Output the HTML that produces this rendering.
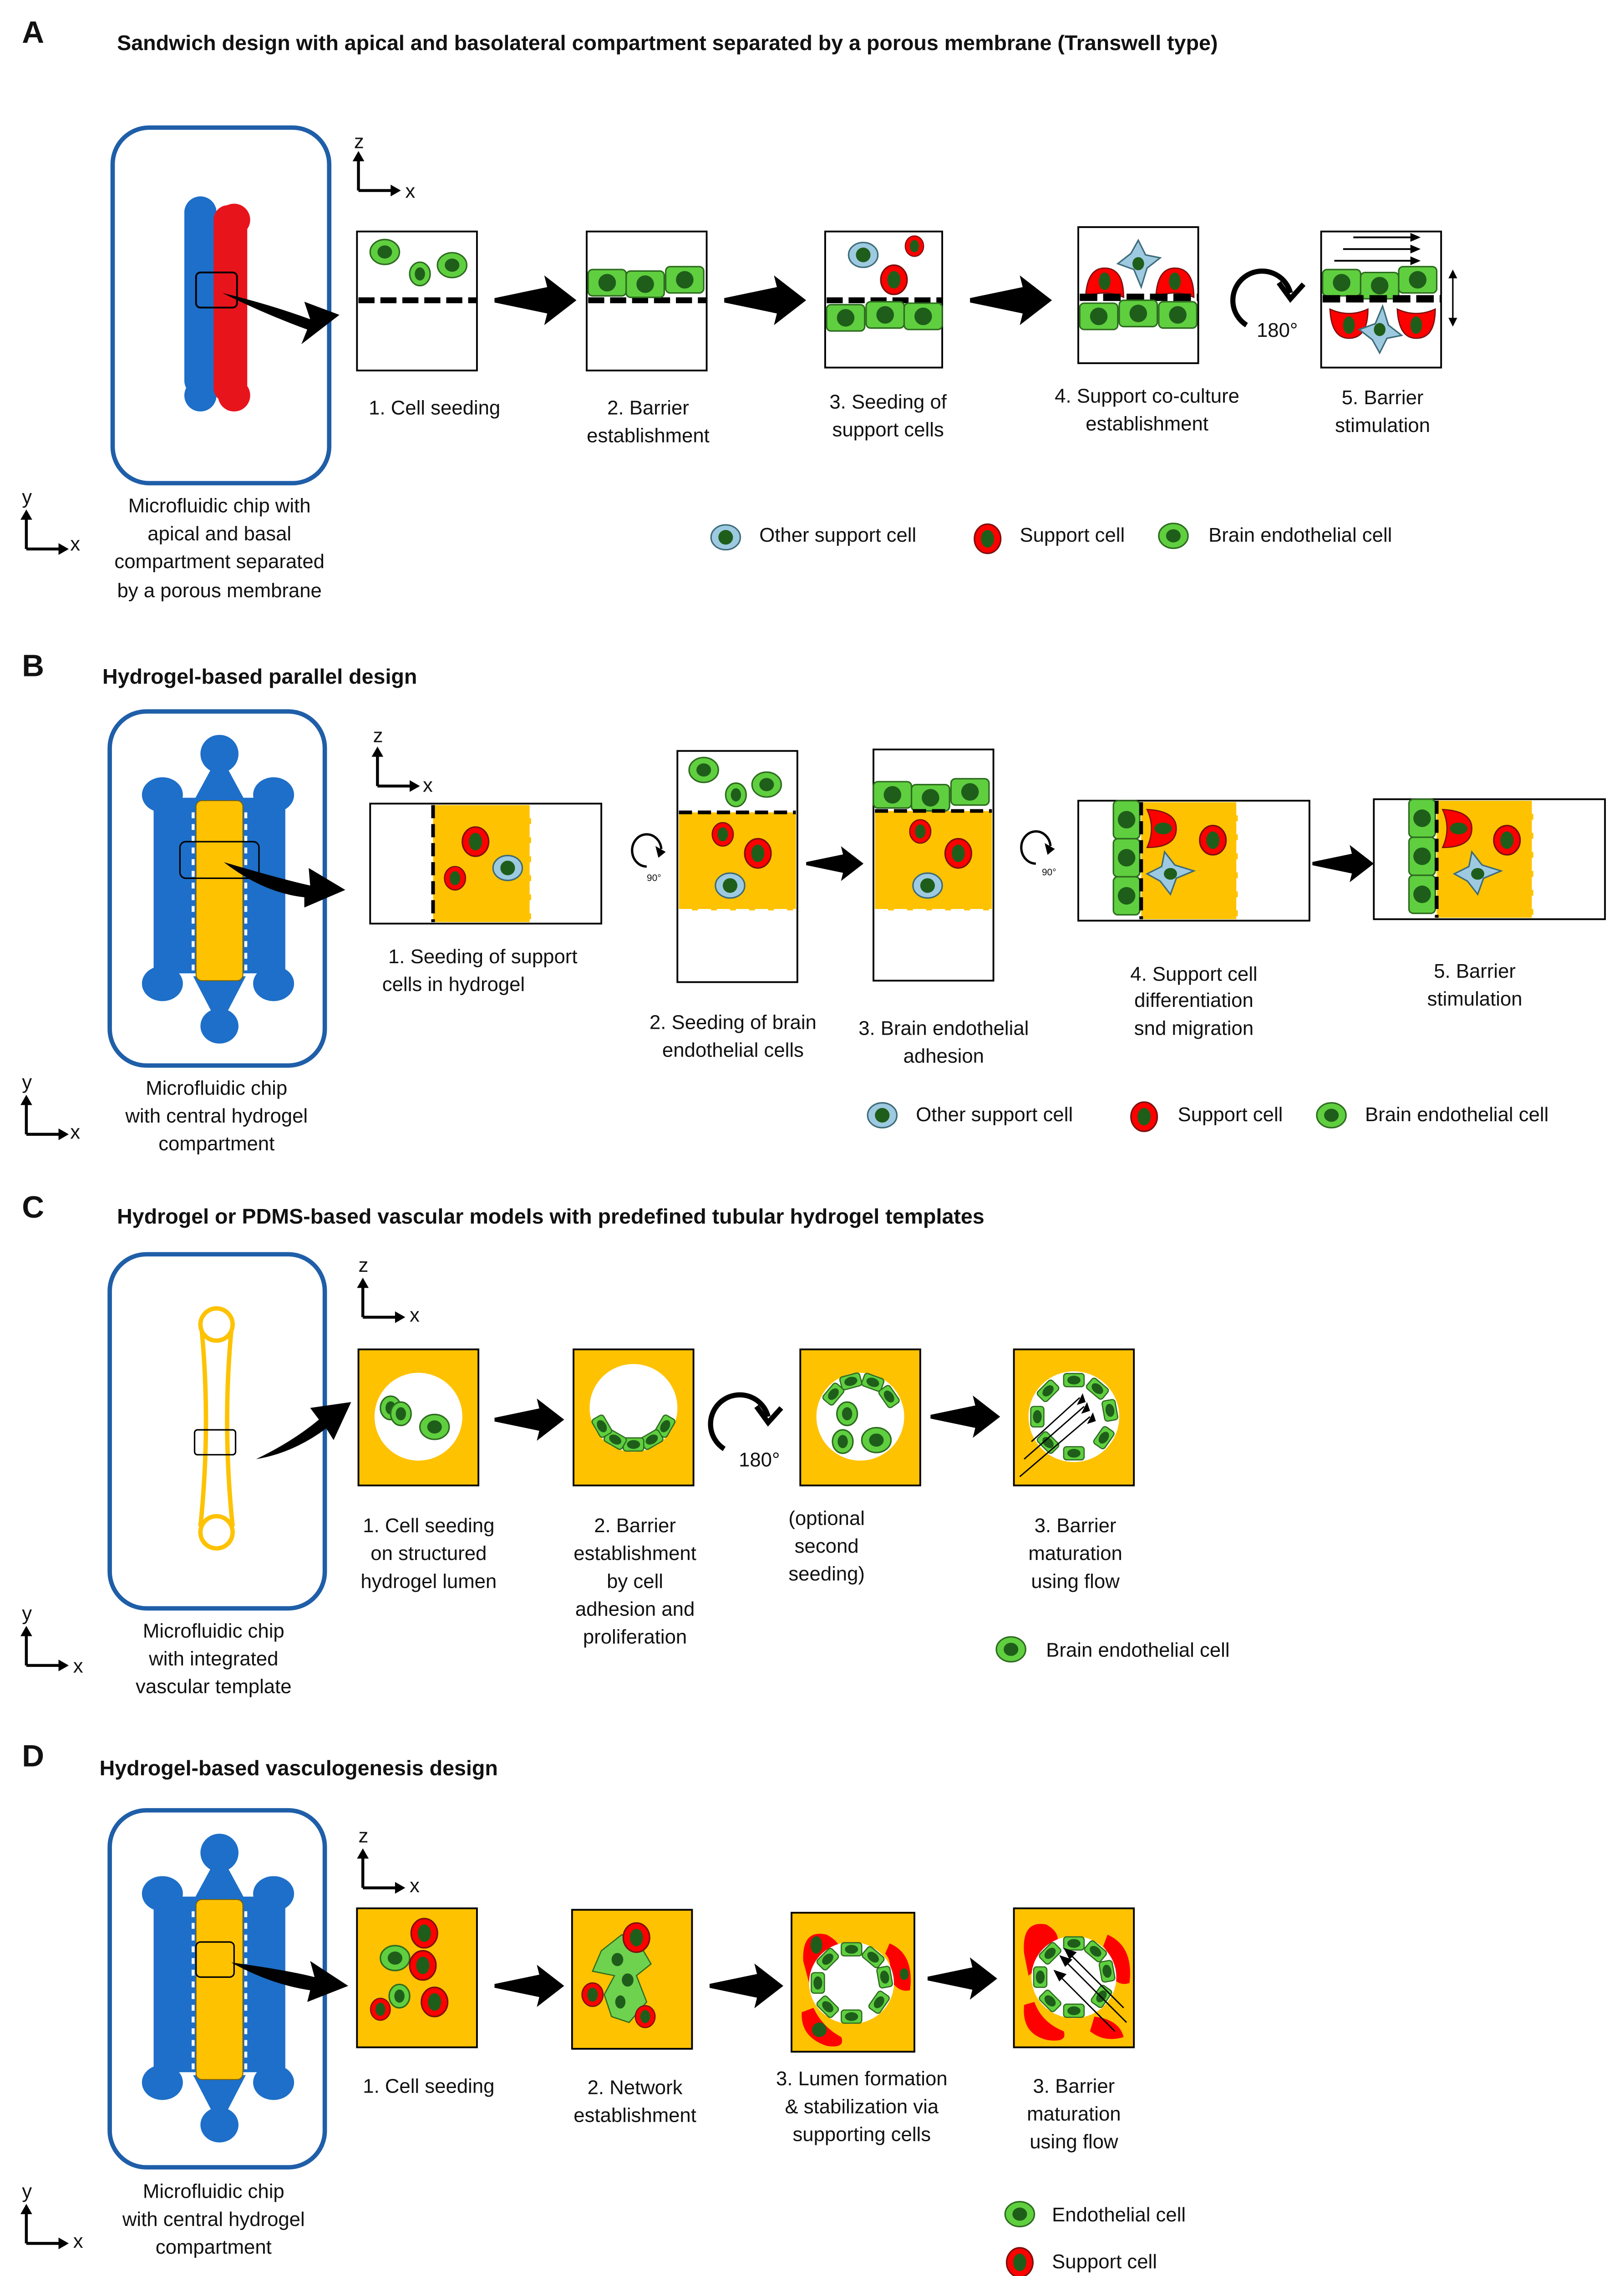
<!DOCTYPE html>
<html><head><meta charset="utf-8">
<style>html,body{margin:0;padding:0;background:#fff;width:3568px;height:5048px;overflow:hidden}svg{display:block;vertical-align:top}
text{font-family:"Liberation Sans",Arial,sans-serif;fill:#111}
.t{font-size:13.6px;text-anchor:middle}
.l{font-size:13.6px}
.h{font-size:14.5px;font-weight:bold}
.L{font-size:21px;font-weight:bold}
</style></head><body>
<svg width="3568" height="5048" viewBox="0 0 1110 1570" xmlns="http://www.w3.org/2000/svg">
<defs>
<g id="gc"><ellipse rx="10" ry="8.5" fill="#5fcf3f" stroke="#2d6b1f" stroke-width="1"/><ellipse rx="5" ry="4.5" fill="#1f5e1a"/></g>
<g id="gcs"><ellipse rx="7" ry="8" fill="#5fcf3f" stroke="#2d6b1f" stroke-width="1"/><ellipse rx="3.5" ry="4.5" fill="#1f5e1a"/></g>
<g id="rc"><ellipse rx="9" ry="10" fill="#f00" stroke="#7a1010" stroke-width="1"/><ellipse rx="4.5" ry="6" fill="#1f5e1a"/></g>
<g id="bc"><ellipse rx="10" ry="8.5" fill="#9ecae1" stroke="#3d6b7a" stroke-width="1"/><ellipse rx="5" ry="5" fill="#1f5e1a"/></g>
<g id="ec"><rect x="-13" y="-9" width="26" height="18" rx="3" fill="#5fcf3f" stroke="#2d6b1f" stroke-width="1"/><ellipse rx="6" ry="6" fill="#1f5e1a"/></g>
<g id="rs"><rect x="-7" y="-4.5" width="14" height="9" rx="2" fill="#5fcf3f" stroke="#2d6b1f" stroke-width="0.8"/><ellipse rx="4.5" ry="3" fill="#1f5e1a"/></g>
<g id="arr"><polygon points="0,-1.5 36,-9 34,-17 56,0 34,17 36,9 0,1.5" fill="#000"/></g>
<g id="bstar"><polygon points="0,-16 5,-6 15,-4 6,3 2,16 -3,4 -14,0 -5,-7" fill="#9ecae1" stroke="#3d6b7a" stroke-width="1"/><ellipse rx="4" ry="4.5" fill="#1f5e1a"/></g>
<g id="rhalf"><path d="M-13,8 Q-12,-12 0,-12 Q13,-12 13,8 Q0,2 -13,8 Z" fill="#f00" stroke="#7a1010" stroke-width="0.8"/><ellipse cx="0" cy="-3" rx="4" ry="6" fill="#1f5e1a"/></g>
<g id="axz"><path d="M0,25 V2 M0,25 H25" stroke="#000" stroke-width="2" fill="none"/><polygon points="-4,5 0,-2 4,5" fill="#000"/><polygon points="22,21 29,25 22,29" fill="#000"/></g>
</defs>

<!-- ================= A ================= -->
<text x="15" y="29" class="L">A</text>
<text x="80" y="34" class="h">Sandwich design with apical and basolateral compartment separated by a porous membrane (Transwell type)</text>
<rect x="77" y="87" width="148" height="243" rx="25" fill="none" stroke="#1f5ea8" stroke-width="3"/>
<rect x="126" y="135" width="22" height="135" rx="10" fill="#1d6fc9"/>
<circle cx="137" cy="145" r="11" fill="#1d6fc9"/><circle cx="137" cy="270" r="11" fill="#1d6fc9"/>
<rect x="146" y="140" width="23" height="135" rx="10" fill="#e8141c"/>
<circle cx="160" cy="150" r="11" fill="#e8141c"/><circle cx="160" cy="270" r="11" fill="#e8141c"/>
<rect x="134" y="186" width="28" height="24" rx="3" fill="none" stroke="#000" stroke-width="1.2"/>
<path d="M152,200 Q185,208 212,218 L208,206 L232,215 L206,235 L210,225 Q180,214 152,200 Z" fill="#000"/>
<use href="#axz" x="245" y="105"/><text x="242" y="101" class="l" font-size="12">z</text><text x="277" y="135" class="l" font-size="12">x</text>

<rect x="244" y="158" width="82" height="95" fill="#fff" stroke="#000" stroke-width="1.2"/>
<line x1="245" y1="205" x2="326" y2="205" stroke="#000" stroke-width="4" stroke-dasharray="11,4"/>
<use href="#gc" x="263" y="172"/><use href="#gcs" x="287" y="187"/><use href="#gc" x="309" y="181"/>
<use href="#arr" x="338" y="205"/>

<rect x="401" y="158" width="82" height="95" fill="#fff" stroke="#000" stroke-width="1.2"/>
<line x1="402" y1="205" x2="483" y2="205" stroke="#000" stroke-width="4" stroke-dasharray="11,4"/>
<use href="#ec" x="415" y="193"/><use href="#ec" x="441" y="194"/><use href="#ec" x="468" y="191"/>
<use href="#arr" x="495" y="205"/>

<rect x="564" y="158" width="80" height="93" fill="#fff" stroke="#000" stroke-width="1.2"/>
<line x1="565" y1="205" x2="644" y2="205" stroke="#000" stroke-width="4" stroke-dasharray="11,4"/>
<use href="#ec" x="578" y="217"/><use href="#ec" x="605" y="215"/><use href="#ec" x="631" y="216"/>
<use href="#bc" x="590" y="174"/><g transform="translate(625,168) scale(0.7)"><use href="#rc"/></g><use href="#rc" x="611" y="191"/>
<use href="#arr" x="663" y="205"/>

<rect x="737" y="155" width="82" height="93" fill="#fff" stroke="#000" stroke-width="1.2"/>
<use href="#rhalf" x="755" y="195"/><use href="#rhalf" x="803" y="195"/>
<use href="#bstar" x="778" y="180"/>
<line x1="738" y1="203" x2="819" y2="203" stroke="#000" stroke-width="5" stroke-dasharray="12,4"/>
<use href="#ec" x="751" y="216"/><use href="#ec" x="778" y="214"/><use href="#ec" x="805" y="215"/>
<path d="M852,222 A20,20 0 1 1 882,200" fill="none" stroke="#000" stroke-width="3.5"/>
<polyline points="874,193 882,204 891,194" fill="none" stroke="#000" stroke-width="3.5"/>
<text x="873" y="230" class="t">180°</text>

<rect x="903" y="158" width="82" height="93" fill="#fff" stroke="#000" stroke-width="1.2"/>
<g stroke="#000" stroke-width="1.2"><line x1="925" y1="162" x2="966" y2="162"/><line x1="918" y1="170" x2="966" y2="170"/><line x1="912" y1="178" x2="966" y2="178"/></g>
<g fill="#000"><polygon points="964,159 971,162 964,165"/><polygon points="964,167 971,170 964,173"/><polygon points="964,175 971,178 964,181"/></g>
<use href="#ec" x="917" y="193"/><use href="#ec" x="943" y="195"/><use href="#ec" x="969" y="191"/>
<g transform="translate(922,219) scale(1,-1)"><use href="#rhalf"/></g><g transform="translate(968,219) scale(1,-1)"><use href="#rhalf"/></g>
<g transform="translate(943,225) scale(1,-1)"><use href="#bstar"/></g>
<line x1="904" y1="204" x2="985" y2="204" stroke="#000" stroke-width="5" stroke-dasharray="12,4"/>
<line x1="993" y1="188" x2="993" y2="219" stroke="#000" stroke-width="1"/>
<polygon points="990,190 993,184 996,190" fill="#000"/><polygon points="990,217 993,223 996,217" fill="#000"/>

<text x="297" y="283" class="t">1. Cell seeding</text>
<text x="443" y="283" class="t">2. Barrier</text><text x="443" y="302" class="t">establishment</text>
<text x="607" y="279" class="t">3. Seeding of</text><text x="607" y="298" class="t">support cells</text>
<text x="784" y="275" class="t">4. Support co-culture</text><text x="784" y="294" class="t">establishment</text>
<text x="945" y="276" class="t">5. Barrier</text><text x="945" y="295" class="t">stimulation</text>
<text x="150" y="350" class="t">Microfluidic chip with</text><text x="150" y="369" class="t">apical and basal</text>
<text x="150" y="388" class="t">compartment separated</text><text x="150" y="408" class="t">by a porous membrane</text>
<use href="#axz" x="18" y="350"/><text x="15" y="344" class="l" font-size="12">y</text><text x="48" y="376" class="l" font-size="12">x</text>
<use href="#bc" x="496" y="367"/><text x="519" y="370" class="l">Other support cell</text>
<use href="#rc" x="675" y="368"/><text x="697" y="370" class="l">Support cell</text>
<use href="#gc" x="802" y="366"/><text x="826" y="370" class="l">Brain endothelial cell</text>

<!-- ================= B ================= -->
<text x="15" y="462" class="L">B</text>
<text x="70" y="467" class="h">Hydrogel-based parallel design</text>
<g>
<rect x="75" y="486" width="147" height="242" rx="25" fill="none" stroke="#1f5ea8" stroke-width="3"/>
<g fill="#1d6fc9">
<rect x="105" y="545" width="90" height="120"/>
<ellipse cx="111" cy="543" rx="14" ry="12"/><ellipse cx="187" cy="543" rx="14" ry="12"/>
<ellipse cx="111" cy="672" rx="14" ry="12"/><ellipse cx="187" cy="672" rx="14" ry="12"/>
<ellipse cx="150" cy="515" rx="13" ry="13"/><ellipse cx="150" cy="701" rx="13" ry="12"/>
<polygon points="145,524 155,524 168,548 132,548"/><polygon points="132,667 168,667 155,692 145,692"/>
</g>
<line x1="132" y1="555" x2="132" y2="665" stroke="#fff" stroke-width="2" stroke-dasharray="4,4"/>
<line x1="168" y1="555" x2="168" y2="665" stroke="#fff" stroke-width="2" stroke-dasharray="4,4"/>
<rect x="134" y="547" width="32" height="123" rx="4" fill="#fec200" stroke="#7a6000" stroke-width="0.6"/>
<rect x="123" y="575" width="54" height="25" rx="4" fill="none" stroke="#000" stroke-width="1"/>
<path d="M153,589 Q190,600 212,605 L211,593 L236,608 L208,620 L208,613 Q180,610 153,589 Z" fill="#000"/>
</g>
<use href="#axz" x="258" y="512"/><text x="255" y="507" class="l" font-size="12">z</text><text x="289" y="541" class="l" font-size="12">x</text>

<rect x="253" y="549" width="158" height="82" fill="#fff" stroke="#000" stroke-width="1.2"/>
<rect x="296" y="550" width="67" height="80" fill="#fec200"/>
<line x1="296" y1="550" x2="296" y2="630" stroke="#000" stroke-width="2.5" stroke-dasharray="9,4"/>
<line x1="363" y1="550" x2="363" y2="630" stroke="#fff" stroke-width="2" stroke-dasharray="9,4"/>
<use href="#rc" x="325" y="575"/><use href="#bc" x="347" y="593"/><g transform="translate(311,600) scale(0.8)"><use href="#rc"/></g>
<path d="M442,592 A10,11 0 1 1 452,580" fill="none" stroke="#000" stroke-width="1.6"/>
<polygon points="448,578 455,582 450,586" fill="#000"/><text x="447" y="602" font-size="6.5" text-anchor="middle">90°</text>

<rect x="463" y="513" width="82" height="158" fill="#fff" stroke="#000" stroke-width="1.2"/>
<rect x="464" y="555" width="80" height="67" fill="#fec200"/>
<line x1="464" y1="555" x2="544" y2="555" stroke="#000" stroke-width="2.5" stroke-dasharray="9,4"/>
<line x1="464" y1="622" x2="544" y2="622" stroke="#fff" stroke-width="2" stroke-dasharray="9,4"/>
<use href="#gc" x="481" y="526"/><use href="#gc" x="524" y="536"/><use href="#gcs" x="503" y="543"/>
<g transform="translate(494,570) scale(0.8)"><use href="#rc"/></g><use href="#rc" x="518" y="583"/><use href="#bc" x="499" y="605"/>
<use href="#arr" x="551" y="590" transform="translate(551,590) scale(0.7) translate(-551,-590)"/>

<rect x="597" y="512" width="82" height="158" fill="#fff" stroke="#000" stroke-width="1.2"/>
<rect x="598" y="554" width="80" height="68" fill="#fec200"/>
<use href="#ec" x="610" y="543"/><use href="#ec" x="636" y="545"/><use href="#ec" x="663" y="541"/>
<line x1="598" y1="554" x2="678" y2="554" stroke="#000" stroke-width="2.5" stroke-dasharray="9,4"/>
<line x1="598" y1="622" x2="678" y2="622" stroke="#fff" stroke-width="2" stroke-dasharray="9,4"/>
<g transform="translate(629,568) scale(0.8)"><use href="#rc"/></g><use href="#rc" x="655" y="583"/><use href="#bc" x="634" y="605"/>
<path d="M708,590 A10,11 0 1 1 718,578" fill="none" stroke="#000" stroke-width="1.6"/>
<polygon points="714,576 721,580 716,584" fill="#000"/><text x="717" y="598" font-size="6.5" text-anchor="middle">90°</text>

<rect x="737" y="547" width="158" height="82" fill="#fff" stroke="#000" stroke-width="1.2"/>
<rect x="780" y="548" width="66" height="80" fill="#fec200"/>
<line x1="846" y1="548" x2="846" y2="628" stroke="#fff" stroke-width="2" stroke-dasharray="9,4"/>
<g transform="translate(770,588) rotate(90)"><use href="#ec" x="-28"/><use href="#ec" x="-2"/><use href="#ec" x="24"/></g>
<line x1="780" y1="548" x2="780" y2="628" stroke="#000" stroke-width="2.5" stroke-dasharray="9,4"/>
<g transform="translate(792,566) rotate(90)"><use href="#rhalf"/></g>
<use href="#rc" x="829" y="574"/>
<g transform="translate(800,597) rotate(-90)"><use href="#bstar"/></g>
<use href="#arr" x="897" y="590" transform="translate(897,590) scale(0.75) translate(-897,-590)"/>

<rect x="939" y="546" width="158" height="82" fill="#fff" stroke="#000" stroke-width="1.2"/>
<rect x="982" y="547" width="66" height="80" fill="#fec200"/>
<line x1="1048" y1="547" x2="1048" y2="627" stroke="#fff" stroke-width="2" stroke-dasharray="9,4"/>
<g transform="translate(972,587) rotate(90)"><use href="#ec" x="-28"/><use href="#ec" x="-2"/><use href="#ec" x="24"/></g>
<line x1="982" y1="547" x2="982" y2="627" stroke="#000" stroke-width="2.5" stroke-dasharray="9,4"/>
<g transform="translate(994,566) rotate(90)"><use href="#rhalf"/></g>
<use href="#rc" x="1030" y="574"/>
<g transform="translate(1010,597) rotate(-90)"><use href="#bstar"/></g>

<text x="330" y="658" class="t">1.   Seeding of support</text><text x="310" y="677" class="t">cells in hydrogel</text>
<text x="501" y="703" class="t">2. Seeding of brain</text><text x="501" y="722" class="t">endothelial cells</text>
<text x="645" y="707" class="t">3. Brain endothelial</text><text x="645" y="726" class="t">adhesion</text>
<text x="816" y="670" class="t">4. Support cell</text><text x="816" y="688" class="t">differentiation</text><text x="816" y="707" class="t">snd migration</text>
<text x="1008" y="668" class="t">5. Barrier</text><text x="1008" y="687" class="t">stimulation</text>
<text x="148" y="748" class="t">Microfluidic chip</text><text x="148" y="767" class="t">with central hydrogel</text><text x="148" y="786" class="t">compartment</text>
<use href="#axz" x="18" y="750"/><text x="15" y="744" class="l" font-size="12">y</text><text x="48" y="778" class="l" font-size="12">x</text>
<use href="#bc" x="603" y="762"/><text x="626" y="766" class="l">Other support cell</text>
<use href="#rc" x="782" y="763"/><text x="805" y="766" class="l">Support cell</text>
<use href="#gc" x="910" y="762"/><text x="933" y="766" class="l">Brain endothelial cell</text>

<!-- ================= C ================= -->
<text x="15" y="832" class="L">C</text>
<text x="80" y="836" class="h">Hydrogel or PDMS-based vascular models with predefined tubular hydrogel templates</text>
<rect x="75" y="857" width="147" height="242" rx="25" fill="none" stroke="#1f5ea8" stroke-width="3"/>
<g fill="none" stroke="#fec200" stroke-width="3">
<circle cx="148" cy="905" r="11"/><circle cx="148" cy="1047" r="11"/>
<path d="M138,910 Q144,975 137,1043 M158,910 Q152,975 159,1043"/>
</g>
<rect x="133" y="977" width="28" height="17" rx="2" fill="none" stroke="#000" stroke-width="1"/>
<path d="M175,997 Q200,985 218,970 L212,962 L240,958 L228,984 L223,976 Q200,993 175,997 Z" fill="#000"/>
<use href="#axz" x="248" y="875"/><text x="245" y="869" class="l" font-size="12">z</text><text x="280" y="903" class="l" font-size="12">x</text>

<rect x="245" y="922" width="82" height="93" fill="#fec200" stroke="#000" stroke-width="1.2"/>
<ellipse cx="286" cy="968" rx="30" ry="30" fill="#fff"/>
<use href="#gcs" x="267" y="962"/><use href="#gcs" x="274" y="966"/><use href="#gc" x="297" y="975"/>
<use href="#arr" x="338" y="970" transform="translate(338,970) scale(0.85) translate(-338,-970)"/>

<rect x="392" y="922" width="82" height="93" fill="#fec200" stroke="#000" stroke-width="1.2"/>
<ellipse cx="433" cy="962" rx="30" ry="30" fill="#fff"/>
<g transform="translate(433,962)">
<g transform="rotate(120) translate(0,-25)"><use href="#rs"/></g>
<g transform="rotate(150) translate(0,-25)"><use href="#rs"/></g>
<g transform="rotate(180) translate(0,-25)"><use href="#rs"/></g>
<g transform="rotate(210) translate(0,-25)"><use href="#rs"/></g>
<g transform="rotate(240) translate(0,-25)"><use href="#rs"/></g>
</g>
<path d="M495,990 A20,20 0 1 1 525,968" fill="none" stroke="#000" stroke-width="3.5"/>
<polyline points="517,961 525,972 534,962" fill="none" stroke="#000" stroke-width="3.5"/>
<text x="519" y="1002" class="t">180°</text>

<rect x="547" y="922" width="82" height="93" fill="#fec200" stroke="#000" stroke-width="1.2"/>
<ellipse cx="588" cy="968" rx="30" ry="30" fill="#fff"/>
<g transform="translate(588,968)">
<g transform="rotate(-50) translate(0,-24)"><use href="#rs"/></g>
<g transform="rotate(-15) translate(0,-25)"><use href="#rs"/></g>
<g transform="rotate(20) translate(0,-25)"><use href="#rs"/></g>
<g transform="rotate(55) translate(0,-24)"><use href="#rs"/></g>
</g>
<use href="#gcs" x="579" y="966"/><use href="#gcs" x="576" y="985"/><use href="#gc" x="599" y="984"/>
<use href="#arr" x="636" y="968" transform="translate(636,968) scale(0.85) translate(-636,-968)"/>

<rect x="693" y="922" width="82" height="93" fill="#fec200" stroke="#000" stroke-width="1.2"/>
<ellipse cx="734" cy="968" rx="31" ry="31" fill="#fff"/>
<g transform="translate(734,968)">
<g transform="rotate(0) translate(0,-25)"><use href="#rs"/></g>
<g transform="rotate(40) translate(0,-25)"><use href="#rs"/></g>
<g transform="rotate(80) translate(0,-25)"><use href="#rs"/></g>
<g transform="rotate(125) translate(0,-25)"><use href="#rs"/></g>
<g transform="rotate(180) translate(0,-25)"><use href="#rs"/></g>
<g transform="rotate(225) translate(0,-25)"><use href="#rs"/></g>
<g transform="rotate(270) translate(0,-25)"><use href="#rs"/></g>
<g transform="rotate(315) translate(0,-25)"><use href="#rs"/></g>
</g>
<g stroke="#000" stroke-width="0.9"><line x1="705" y1="985" x2="738" y2="955"/><line x1="700" y1="997" x2="741" y2="961"/><line x1="697" y1="1009" x2="745" y2="968"/></g>
<g fill="#000"><polygon points="740,952 736,960 742,958"/><polygon points="743,958 739,966 745,964"/><polygon points="747,965 743,973 749,971"/></g>

<text x="293" y="1047" class="t">1.   Cell seeding</text><text x="293" y="1066" class="t">on structured</text><text x="293" y="1085" class="t">hydrogel lumen</text>
<text x="434" y="1047" class="t">2. Barrier</text><text x="434" y="1066" class="t">establishment</text><text x="434" y="1085" class="t">by cell</text><text x="434" y="1104" class="t">adhesion and</text><text x="434" y="1123" class="t">proliferation</text>
<text x="565" y="1042" class="t">(optional</text><text x="565" y="1061" class="t">second</text><text x="565" y="1080" class="t">seeding)</text>
<text x="735" y="1047" class="t">3. Barrier</text><text x="735" y="1066" class="t">maturation</text><text x="735" y="1085" class="t">using flow</text>
<text x="146" y="1119" class="t">Microfluidic chip</text><text x="146" y="1138" class="t">with integrated</text><text x="146" y="1157" class="t">vascular template</text>
<use href="#axz" x="18" y="1113"/><text x="15" y="1107" class="l" font-size="12">y</text><text x="50" y="1143" class="l" font-size="12">x</text>
<use href="#gc" x="691" y="1127"/><text x="715" y="1132" class="l">Brain endothelial cell</text>

<!-- ================= D ================= -->
<text x="15" y="1207" class="L">D</text>
<text x="68" y="1213" class="h">Hydrogel-based vasculogenesis design</text>
<g transform="translate(0,751)">
<rect x="75" y="486" width="147" height="244" rx="25" fill="none" stroke="#1f5ea8" stroke-width="3"/>
<g fill="#1d6fc9">
<rect x="105" y="545" width="90" height="120"/>
<ellipse cx="111" cy="543" rx="14" ry="12"/><ellipse cx="187" cy="543" rx="14" ry="12"/>
<ellipse cx="111" cy="672" rx="14" ry="12"/><ellipse cx="187" cy="672" rx="14" ry="12"/>
<ellipse cx="150" cy="515" rx="13" ry="13"/><ellipse cx="150" cy="701" rx="13" ry="12"/>
<polygon points="145,524 155,524 168,548 132,548"/><polygon points="132,667 168,667 155,692 145,692"/>
</g>
<line x1="132" y1="555" x2="132" y2="665" stroke="#fff" stroke-width="2" stroke-dasharray="4,4"/>
<line x1="168" y1="555" x2="168" y2="665" stroke="#fff" stroke-width="2" stroke-dasharray="4,4"/>
<rect x="134" y="547" width="32" height="123" rx="4" fill="#fec200" stroke="#7a6000" stroke-width="0.6"/>
<rect x="134" y="576" width="26" height="24" rx="3" fill="none" stroke="#000" stroke-width="1"/>
<path d="M158,590 Q195,595 215,600 L212,589 L238,606 L210,617 L212,609 Q185,605 158,590 Z" fill="#000"/>
</g>
<use href="#axz" x="248" y="1265"/><text x="245" y="1259" class="l" font-size="12">z</text><text x="280" y="1293" class="l" font-size="12">x</text>

<rect x="244" y="1304" width="82" height="95" fill="#fec200" stroke="#000" stroke-width="1.2"/>
<use href="#rc" x="290" y="1321"/><use href="#gc" x="270" y="1338"/><use href="#rc" x="289" y="1343"/>
<use href="#gcs" x="273" y="1364"/><use href="#rc" x="297" y="1368"/><g transform="translate(260,1373) scale(0.75)"><use href="#rc"/></g>
<use href="#arr" x="338" y="1357" transform="translate(338,1357) scale(0.85) translate(-338,-1357)"/>

<rect x="391" y="1305" width="82" height="95" fill="#fec200" stroke="#000" stroke-width="1.2"/>
<g fill="#6fd24f" stroke="#2d6b1f" stroke-width="0.8">
<polygon points="411,1333 425,1322 438,1330 445,1342 435,1350 442,1368 430,1382 418,1378 413,1363 420,1350 405,1347"/>
</g>
<g fill="#1f5e1a"><ellipse cx="422" cy="1339" rx="4" ry="4.5"/><ellipse cx="429" cy="1353" rx="4" ry="4.5"/><ellipse cx="424" cy="1368" rx="3.5" ry="4.5"/></g>
<use href="#rc" x="435" y="1324"/><g transform="translate(405,1363) scale(0.8)"><use href="#rc"/></g><g transform="translate(441,1378) scale(0.75)"><use href="#rc"/></g>
<use href="#arr" x="485" y="1357" transform="translate(485,1357) scale(0.9) translate(-485,-1357)"/>

<rect x="541" y="1307" width="84" height="95" fill="#fec200" stroke="#000" stroke-width="1.2"/>
<path d="M549,1340 Q548,1318 565,1322 Q580,1330 570,1340 Q560,1350 553,1355 Z" fill="#f00"/>
<path d="M608,1328 Q625,1335 622,1360 Q614,1362 608,1352 Q610,1340 605,1335 Z" fill="#f00"/>
<path d="M548,1375 Q547,1392 565,1398 Q578,1400 575,1392 Q562,1385 556,1372 Z" fill="#f00"/>
<ellipse cx="582" cy="1355" rx="29" ry="28" fill="#fff"/>
<g transform="translate(582,1355)">
<g transform="rotate(0) translate(0,-23)"><use href="#rs"/></g>
<g transform="rotate(40) translate(0,-23)"><use href="#rs"/></g>
<g transform="rotate(80) translate(0,-23)"><use href="#rs"/></g>
<g transform="rotate(125) translate(0,-23)"><use href="#rs"/></g>
<g transform="rotate(180) translate(0,-23)"><use href="#rs"/></g>
<g transform="rotate(225) translate(0,-23)"><use href="#rs"/></g>
<g transform="rotate(270) translate(0,-23)"><use href="#rs"/></g>
<g transform="rotate(315) translate(0,-23)"><use href="#rs"/></g>
</g>
<g fill="#1f5e1a"><ellipse cx="558" cy="1329" rx="4" ry="6"/><ellipse cx="618" cy="1349" rx="3" ry="4"/><ellipse cx="560" cy="1387" rx="5" ry="5"/></g>
<use href="#arr" x="634" y="1352" transform="translate(634,1352) scale(0.85) translate(-634,-1352)"/>

<rect x="693" y="1304" width="82" height="95" fill="#fec200" stroke="#000" stroke-width="1.2"/>
<path d="M700,1335 Q698,1312 715,1315 Q728,1322 720,1334 Q710,1345 703,1350 Z" fill="#f00"/>
<path d="M757,1322 Q775,1330 772,1355 Q764,1358 758,1348 Q760,1336 754,1330 Z" fill="#f00"/>
<path d="M700,1370 Q698,1390 716,1394 Q730,1396 727,1388 Q712,1382 707,1368 Z" fill="#f00"/>
<path d="M748,1378 Q765,1380 768,1392 Q755,1396 745,1388 Z" fill="#f00"/>
<ellipse cx="734" cy="1351" rx="29" ry="28" fill="#fff"/>
<g transform="translate(734,1351)">
<g transform="rotate(0) translate(0,-23)"><use href="#rs"/></g>
<g transform="rotate(40) translate(0,-23)"><use href="#rs"/></g>
<g transform="rotate(80) translate(0,-23)"><use href="#rs"/></g>
<g transform="rotate(125) translate(0,-23)"><use href="#rs"/></g>
<g transform="rotate(180) translate(0,-23)"><use href="#rs"/></g>
<g transform="rotate(225) translate(0,-23)"><use href="#rs"/></g>
<g transform="rotate(270) translate(0,-23)"><use href="#rs"/></g>
<g transform="rotate(315) translate(0,-23)"><use href="#rs"/></g>
</g>
<g stroke="#000" stroke-width="0.9"><line x1="770" y1="1382" x2="728" y2="1340"/><line x1="768" y1="1372" x2="731" y2="1335"/><line x1="762" y1="1388" x2="724" y2="1350"/></g>
<g fill="#000"><polygon points="724,1336 733,1339 728,1344"/><polygon points="727,1331 736,1334 731,1339"/><polygon points="720,1346 729,1349 724,1354"/></g>

<text x="293" y="1430" class="t">1.   Cell seeding</text>
<text x="434" y="1431" class="t">2. Network</text><text x="434" y="1450" class="t">establishment</text>
<text x="589" y="1425" class="t">3. Lumen formation</text><text x="589" y="1444" class="t">&amp; stabilization via</text><text x="589" y="1463" class="t">supporting cells</text>
<text x="734" y="1430" class="t">3. Barrier</text><text x="734" y="1449" class="t">maturation</text><text x="734" y="1468" class="t">using flow</text>
<text x="146" y="1502" class="t">Microfluidic chip</text><text x="146" y="1521" class="t">with central hydrogel</text><text x="146" y="1540" class="t">compartment</text>
<use href="#axz" x="18" y="1508"/><text x="15" y="1502" class="l" font-size="12">y</text><text x="50" y="1536" class="l" font-size="12">x</text>
<use href="#gc" x="697" y="1513"/><text x="719" y="1518" class="l">Endothelial cell</text>
<use href="#rc" x="697" y="1546"/><text x="719" y="1550" class="l">Support cell</text>
</svg>
</body></html>
